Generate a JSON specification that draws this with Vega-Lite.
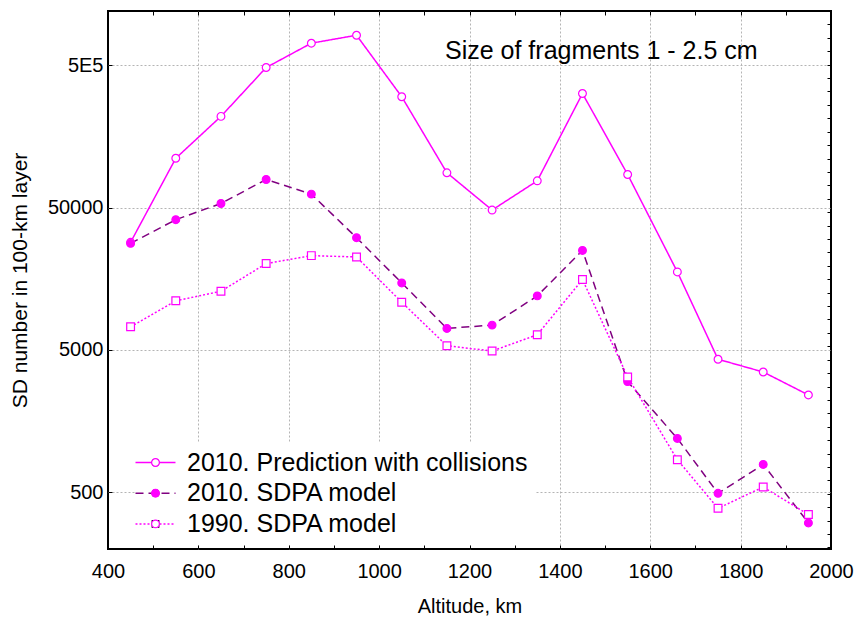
{
  "$schema": "https://vega.github.io/schema/vega-lite/v6.json",
  "width": 723,
  "height": 538,
  "autosize": "none",
  "padding": {"left": 108, "top": 11, "right": 25, "bottom": 73},
  "background": "white",
  "config": {
    "font": "Liberation Sans",
    "view": {"stroke": "black", "strokeWidth": 2},
    "axis": {"labelColor": "black", "titleColor": "black", "tickColor": "black", "labelFont": "Liberation Sans", "titleFont": "Liberation Sans"}
  },
  "title": {
    "text": "Size of fragments 1 - 2.5 cm",
    "anchor": "start",
    "frame": "group",
    "orient": "top",
    "fontSize": 25,
    "fontWeight": "normal",
    "color": "black",
    "offset": 0,
    "baseline": "alphabetic",
    "dx": 337,
    "dy": 73
  },
  "data": {
    "values": [
      {"alt": 450, "n": 28500, "series": "2010. Prediction with collisions"},
      {"alt": 550, "n": 110900, "series": "2010. Prediction with collisions"},
      {"alt": 650, "n": 218300, "series": "2010. Prediction with collisions"},
      {"alt": 750, "n": 481000, "series": "2010. Prediction with collisions"},
      {"alt": 850, "n": 713000, "series": "2010. Prediction with collisions"},
      {"alt": 950, "n": 811000, "series": "2010. Prediction with collisions"},
      {"alt": 1050, "n": 300000, "series": "2010. Prediction with collisions"},
      {"alt": 1150, "n": 87700, "series": "2010. Prediction with collisions"},
      {"alt": 1250, "n": 48000, "series": "2010. Prediction with collisions"},
      {"alt": 1350, "n": 77000, "series": "2010. Prediction with collisions"},
      {"alt": 1450, "n": 316000, "series": "2010. Prediction with collisions"},
      {"alt": 1550, "n": 85300, "series": "2010. Prediction with collisions"},
      {"alt": 1660, "n": 17650, "series": "2010. Prediction with collisions"},
      {"alt": 1750, "n": 4300, "series": "2010. Prediction with collisions"},
      {"alt": 1850, "n": 3500, "series": "2010. Prediction with collisions"},
      {"alt": 1950, "n": 2415, "series": "2010. Prediction with collisions"},
      {"alt": 450, "n": 28000, "series": "2010. SDPA model"},
      {"alt": 550, "n": 41100, "series": "2010. SDPA model"},
      {"alt": 650, "n": 53400, "series": "2010. SDPA model"},
      {"alt": 750, "n": 78700, "series": "2010. SDPA model"},
      {"alt": 850, "n": 62100, "series": "2010. SDPA model"},
      {"alt": 950, "n": 30700, "series": "2010. SDPA model"},
      {"alt": 1050, "n": 14780, "series": "2010. SDPA model"},
      {"alt": 1150, "n": 7080, "series": "2010. SDPA model"},
      {"alt": 1250, "n": 7470, "series": "2010. SDPA model"},
      {"alt": 1350, "n": 11980, "series": "2010. SDPA model"},
      {"alt": 1450, "n": 25000, "series": "2010. SDPA model"},
      {"alt": 1550, "n": 2995, "series": "2010. SDPA model"},
      {"alt": 1660, "n": 1195, "series": "2010. SDPA model"},
      {"alt": 1750, "n": 492, "series": "2010. SDPA model"},
      {"alt": 1850, "n": 785, "series": "2010. SDPA model"},
      {"alt": 1950, "n": 305, "series": "2010. SDPA model"},
      {"alt": 450, "n": 7270, "series": "1990. SDPA model"},
      {"alt": 550, "n": 11060, "series": "1990. SDPA model"},
      {"alt": 650, "n": 12920, "series": "1990. SDPA model"},
      {"alt": 750, "n": 20200, "series": "1990. SDPA model"},
      {"alt": 850, "n": 22970, "series": "1990. SDPA model"},
      {"alt": 950, "n": 22480, "series": "1990. SDPA model"},
      {"alt": 1050, "n": 10820, "series": "1990. SDPA model"},
      {"alt": 1150, "n": 5350, "series": "1990. SDPA model"},
      {"alt": 1250, "n": 4910, "series": "1990. SDPA model"},
      {"alt": 1350, "n": 6390, "series": "1990. SDPA model"},
      {"alt": 1450, "n": 15600, "series": "1990. SDPA model"},
      {"alt": 1550, "n": 3230, "series": "1990. SDPA model"},
      {"alt": 1660, "n": 847, "series": "1990. SDPA model"},
      {"alt": 1750, "n": 386, "series": "1990. SDPA model"},
      {"alt": 1850, "n": 545, "series": "1990. SDPA model"},
      {"alt": 1950, "n": 349, "series": "1990. SDPA model"}
    ]
  },
  "layer": [
    {
      "mark": {"type": "line", "strokeWidth": 1.5},
      "encoding": {
        "x": {
          "field": "alt", "type": "quantitative",
          "scale": {"domain": [400, 2000], "nice": false, "zero": false},
          "axis": {
            "orient": "top",
            "values": [400, 500, 600, 700, 800, 900, 1000, 1100, 1200, 1300, 1400, 1500, 1600, 1700, 1800, 1900, 2000],
            "labels": false,
            "domain": false,
            "tickSize": -4,
            "tickWidth": 1,
            "grid": true,
            "gridColor": "#b4b4b4",
            "gridDash": [2, 2],
            "gridWidth": 1,
            "gridOpacity": {"condition": {"test": "datum.value % 200 == 0 && datum.value > 400 && datum.value < 2000", "value": 1}, "value": 0},
            "title": null
          }
        },
        "y": {
          "field": "n", "type": "quantitative",
          "scale": {"type": "log", "domain": [200, 1200000], "nice": false},
          "axis": {
            "orient": "left",
            "values": [500, 5000, 50000, 500000],
            "labelExpr": "datum.value >= 500000 ? '5E5' : format(datum.value, 'd')",
            "labelFontSize": 20,
            "labelPadding": 9,
            "domain": false,
            "tickSize": -4,
            "grid": true,
            "gridColor": "#b4b4b4",
            "gridDash": [2, 2],
            "gridWidth": 1,
            "title": "SD number in 100-km layer",
            "titleFontSize": 21,
            "titleFontWeight": "normal",
            "titlePadding": 17
          }
        },
        "color": {
          "field": "series", "type": "nominal",
          "scale": {"domain": ["2010. Prediction with collisions", "2010. SDPA model", "1990. SDPA model"], "range": ["#ff00ff", "#800080", "#ff00ff"]},
          "legend": {
            "orient": "none", "legendX": 27, "legendY": 431, "title": null,
            "symbolType": "M-5,0H5", "symbolSize": 64, "symbolStrokeWidth": 1.5,
            "labelFontSize": 25, "labelColor": "black", "labelOffset": 19, "labelLimit": 600,
            "rowPadding": 4.7, "padding": 8, "fillColor": "white"
          }
        },
        "strokeDash": {
          "field": "series", "type": "nominal",
          "scale": {"domain": ["2010. Prediction with collisions", "2010. SDPA model", "1990. SDPA model"], "range": [[1, 0], [8, 5], [2, 2]]},
          "legend": {
            "orient": "none", "legendX": 27, "legendY": 431, "title": null,
            "symbolType": "M-5,0H5", "symbolSize": 64, "symbolStrokeWidth": 1.5,
            "labelFontSize": 25, "labelColor": "black", "labelOffset": 19, "labelLimit": 600,
            "rowPadding": 4.7, "padding": 8, "fillColor": "white"
          }
        }
      }
    },
    {
      "mark": {"type": "point", "filled": true, "stroke": "#ff00ff", "strokeWidth": 1.2, "size": 60, "opacity": 1},
      "encoding": {
        "x": {
          "field": "alt", "type": "quantitative",
          "axis": {
            "orient": "bottom",
            "values": [400, 500, 600, 700, 800, 900, 1000, 1100, 1200, 1300, 1400, 1500, 1600, 1700, 1800, 1900, 2000],
            "labelExpr": "datum.value % 200 == 0 ? format(datum.value, 'd') : ''",
            "labelFontSize": 20,
            "labelFlush": false,
            "labelOverlap": false,
            "labelPadding": 16,
            "domain": false,
            "tickSize": -4,
            "grid": false,
            "title": "Altitude, km",
            "titleFontSize": 20,
            "titleFontWeight": "normal",
            "titlePadding": 15
          }
        },
        "y": {
          "field": "n", "type": "quantitative",
          "axis": {
            "orient": "right",
            "values": [966000, 778000, 626000, 504000, 405800, 326800, 263000, 211700, 170400, 137200, 110400, 88900, 71560, 57610, 46380, 37340, 30060, 24200, 19480, 15680, 12620, 10160, 8180, 6585, 5301, 4268, 3436, 2766, 2227, 1793, 1443, 1162, 935, 753, 606, 488, 393, 316, 255, 205],
            "labels": false,
            "domain": false,
            "grid": false,
            "tickSize": -4,
            "title": null
          }
        },
        "shape": {
          "field": "series", "type": "nominal",
          "sort": ["2010. Prediction with collisions", "2010. SDPA model", "1990. SDPA model"],
          "scale": {"range": ["circle", "circle", "square"]},
          "legend": {
            "orient": "none", "legendX": 27, "legendY": 431, "title": null,
            "symbolSize": 60, "symbolStrokeColor": "#ff00ff", "symbolStrokeWidth": 1.2,
            "labelFontSize": 25, "labelOpacity": 0, "labelOffset": 19, "labelLimit": 600,
            "rowPadding": 4.7, "padding": 8
          }
        },
        "fill": {
          "field": "series", "type": "nominal",
          "sort": ["2010. Prediction with collisions", "2010. SDPA model", "1990. SDPA model"],
          "scale": {"range": ["white", "#ff00ff", "white"]},
          "legend": {
            "orient": "none", "legendX": 27, "legendY": 431, "title": null,
            "symbolSize": 60, "symbolStrokeColor": "#ff00ff", "symbolStrokeWidth": 1.2,
            "labelFontSize": 25, "labelOpacity": 0, "labelOffset": 19, "labelLimit": 600,
            "rowPadding": 4.7, "padding": 8
          }
        }
      }
    }
  ]
}
